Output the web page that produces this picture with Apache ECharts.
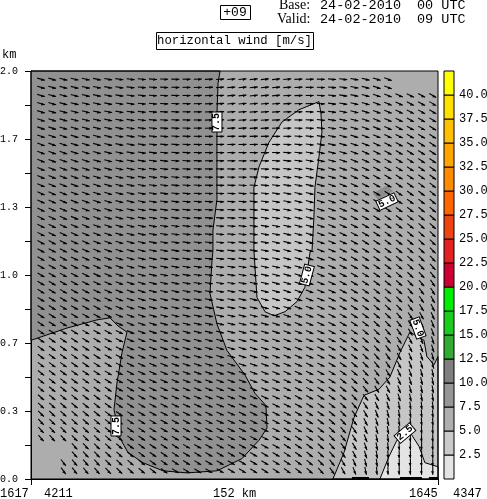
<!DOCTYPE html>
<html>
<head>
<meta charset="utf-8">
<title>horizontal wind</title>
<script src="https://cdn.jsdelivr.net/npm/echarts@6/dist/echarts.min.js"></script>
<style>html,body{margin:0;padding:0;background:#fff}</style>
</head>
<body>
<div id="main" style="width:487px;height:499px"></div>
<script type="text/javascript">
// cross section limits
var sectionKm = 304;
var topKm = 2;

// colour bar
var barLevels = [0,2.5,5,7.5,10,12.5,15,17.5,20,22.5,25,27.5,30,32.5,35,37.5,40,42.5];
var barColors = ['#e4e4e4','#cacaca','#afafaf','#969696','#7f7f7f','#33aa33','#1ccc1c','#00ee00','#cc0033','#e52222','#ee4411','#ff6600','#ff8c00','#ffa500','#ffc000','#ffe000','#ffff00'];

// contour areas, [km along section, height km]
var area75 = [[0,2],[141.2,2],[139.7,1.94],[138.9,1.79],[138.9,1.70],[138.9,1.37],[135.9,1.22],[135.9,1.12],[135.2,1.07],[133.7,0.91],[138.9,0.76],[146.4,0.63],[159.8,0.51],[167.3,0.42],[175.5,0.36],[176.3,0.25],[170.3,0.19],[157.6,0.10],[138.9,0.04],[116.5,0.03],[98.6,0.04],[83.6,0.08],[72.4,0.13],[66.5,0.20],[62,0.34],[64.2,0.47],[68,0.62],[71.7,0.72],[65,0.75],[59,0.79],[49.3,0.78],[26.9,0.74],[9,0.70],[0,0.68]];
var area25Upper = [[215.1,1.85],[216.6,1.79],[217.3,1.70],[215.1,1.58],[212.1,1.43],[211.3,1.28],[209.9,1.12],[208.4,1.11],[204.6,0.94],[198.7,0.87],[189.7,0.82],[181.5,0.80],[174.8,0.82],[168.8,0.89],[167.3,1.04],[166.5,1.12],[166.5,1.43],[170.3,1.53],[177.7,1.65],[187.5,1.75],[200.1,1.81]];
var area25Lower = [[225.5,0],[233.8,0.13],[241.2,0.30],[248.7,0.41],[259.9,0.44],[268.1,0.50],[275.6,0.62],[283,0.72],[293.5,0.68],[295.7,0.60],[301,0.56],[304,0.60],[304,0]];
var area0 = [[260.6,0],[267.4,0.11],[273.3,0.19],[283,0.23],[289.8,0.16],[294.2,0.08],[304,0.06],[304,0]];
var patch75 = [[255.4,1.40],[265.9,1.44],[270.4,1.41],[259.2,1.37]];
var groundRuns = [[239.7,252.4],[275.6,292],[297.2,304]];

// contour labels, [km, height km, turn degrees, text]
var contourLabels = [[138.9,1.75,90,'7.5'],[206.1,1.0,75,'5.0'],[289,0.74,-70,'5.0'],[279.3,0.225,40,'2.5'],[63.5,0.26,90,'7.5'],[265.9,1.36,25,'5.0']];

// wind grid
var firstColKm = 7.5, colStepKm = 8.36;
var firstRowKm = 1.96, rowStepKm = 0.04;

// wind direction, degrees below east, top row first
var windAngles = [
[15,15,14,13,12,11,10,8,7,5,4,2,1,0,-2,-3,-4,-5,-5,-6,-6,-6,-5,-3,-1,1,4,7,10,14,17,20,null,null,null,null],
[15,15,14,14,12,11,10,8,7,5,4,3,1,0,-2,-3,-4,-5,-6,-6,-6,-6,-5,-3,-1,2,5,8,11,14,17,20,null,null,null,null],
[16,15,15,14,13,12,11,9,7,6,4,3,1,0,-2,-3,-4,-5,-6,-7,-6,-6,-4,-2,0,3,6,9,12,15,18,21,24,26,28,29],
[16,16,15,14,13,12,11,9,8,6,5,3,2,0,-1,-3,-4,-5,-6,-6,-6,-5,-4,-2,0,3,7,10,13,16,19,22,25,27,28,30],
[17,16,16,15,14,12,11,10,8,6,5,3,2,0,-1,-2,-3,-4,-5,-5,-5,-4,-3,-1,2,5,8,11,14,17,20,22,25,27,29,30],
[18,17,16,15,14,13,12,10,8,7,5,4,2,1,0,-2,-3,-4,-4,-4,-4,-3,-2,0,3,6,9,12,15,18,21,23,26,28,30,31],
[18,18,17,16,15,14,12,11,9,7,6,4,3,1,0,-1,-2,-3,-3,-3,-3,-2,-1,1,4,7,10,13,16,19,22,24,27,29,30,31],
[19,18,18,17,16,14,13,11,9,8,6,5,3,2,1,0,-1,-2,-2,-2,-2,-1,1,3,6,9,11,14,17,20,23,25,27,29,31,32],
[20,19,18,17,16,15,13,12,10,8,6,5,4,2,1,0,-1,-1,-1,-1,-1,0,2,4,7,10,12,15,18,21,24,26,28,30,32,33],
[20,20,19,18,17,15,14,12,10,8,7,5,4,3,1,0,0,0,0,0,0,1,3,6,9,12,14,17,20,23,26,28,30,31,32,33],
[21,20,19,18,17,16,14,12,11,9,7,6,4,3,2,1,0,0,1,1,1,3,5,7,10,13,15,18,21,24,26,28,30,32,33,34],
[22,21,20,19,18,16,15,13,11,9,8,6,5,3,2,1,1,1,2,2,3,4,6,9,11,14,16,19,22,25,27,29,31,33,34,35],
[22,22,21,20,18,17,15,13,12,10,8,6,5,4,3,2,1,2,2,3,4,5,8,10,12,15,17,20,23,26,28,30,32,34,35,36],
[23,22,21,20,19,17,16,14,12,10,8,7,5,4,3,2,2,2,3,4,5,7,9,11,13,16,18,21,24,27,29,31,33,35,36,37],
[24,23,22,21,19,17,16,14,12,10,9,7,6,4,3,2,2,3,4,5,6,8,10,12,14,17,19,22,25,28,30,32,34,36,37,38],
[24,24,23,21,20,18,16,14,13,11,9,7,6,5,4,3,3,3,4,6,7,9,11,13,15,18,20,23,26,28,30,33,35,36,38,39],
[25,24,23,22,20,18,17,15,13,11,9,8,6,5,4,3,3,4,5,6,8,10,11,13,15,18,20,23,26,29,31,33,35,37,39,40],
[26,25,24,22,21,19,17,15,13,11,10,8,7,5,4,4,4,4,6,7,8,10,12,14,16,19,21,24,27,29,31,34,36,38,40,41],
[26,25,24,23,21,19,18,16,14,12,10,8,7,6,5,4,4,5,6,8,9,11,12,14,16,19,21,24,27,30,32,34,36,38,41,42],
[27,26,25,24,22,20,18,16,14,12,10,9,7,6,5,4,4,5,7,8,10,11,13,15,17,20,22,25,27,30,32,35,37,39,41,43],
[28,27,26,24,23,21,19,17,15,13,11,9,8,7,6,5,5,6,7,9,10,12,14,16,18,20,22,25,28,31,33,35,37,40,42,44],
[28,27,26,25,23,21,20,18,16,14,11,10,9,7,6,6,6,6,8,9,11,12,14,16,18,21,23,26,28,31,33,35,38,40,43,45],
[29,28,27,25,24,22,20,18,16,14,12,10,9,8,7,6,6,7,8,10,11,13,15,17,19,21,23,26,29,31,34,36,38,41,44,47],
[29,28,27,26,25,23,21,19,17,15,12,11,10,9,8,7,7,8,9,11,12,13,15,17,19,21,23,26,29,32,34,36,39,42,45,48],
[30,29,28,27,25,24,21,19,17,15,13,12,10,9,8,8,8,9,10,11,13,14,16,17,19,22,24,27,29,32,35,37,40,43,46,50],
[30,30,29,28,26,25,22,20,18,16,14,12,11,10,9,9,9,9,10,12,13,15,16,18,20,22,24,27,30,33,36,38,41,45,49,54],
[31,30,29,28,27,25,23,21,19,17,14,13,12,11,10,9,9,10,11,12,14,15,17,18,20,22,24,27,30,34,37,39,42,47,52,57],
[31,31,30,29,27,26,24,21,19,17,15,13,12,11,10,10,10,11,12,13,14,16,17,19,21,23,25,28,31,34,38,41,44,50,55,60],
[32,31,30,29,28,27,24,22,20,18,15,14,13,12,11,11,11,11,12,14,15,16,18,19,21,23,25,28,31,35,39,42,46,52,58,62],
[32,32,31,30,29,28,25,23,20,18,16,15,14,13,12,12,12,12,13,14,16,17,18,20,22,24,26,29,32,36,40,44,49,55,60,65],
[33,32,31,30,29,28,26,23,21,19,17,16,15,14,13,13,13,13,14,15,16,18,19,21,22,24,26,29,33,37,42,46,51,57,63,67],
[34,33,32,31,30,29,27,24,22,20,18,17,16,15,14,14,14,14,15,16,17,18,20,21,23,25,27,30,34,39,43,48,54,60,65,69],
[34,34,33,32,31,30,27,25,23,21,19,18,17,16,15,15,15,15,16,17,18,19,20,22,23,25,27,31,35,40,45,50,56,62,67,71],
[35,35,34,33,32,31,28,26,24,22,20,19,18,17,16,16,16,16,17,18,18,20,21,22,24,26,28,32,36,41,46,52,58,64,69,72],
[36,35,35,34,33,31,29,27,25,23,21,20,19,18,17,17,17,17,18,18,19,20,22,23,24,26,29,33,37,43,48,54,60,66,71,73],
[37,36,36,35,33,32,30,28,26,24,22,21,20,19,18,18,18,18,19,19,20,21,22,24,25,27,30,34,39,44,50,56,62,68,72,75],
[38,37,36,35,34,33,31,29,27,25,23,22,21,20,19,19,19,19,20,20,21,22,23,24,26,28,31,35,40,46,52,58,64,70,74,77],
[39,38,37,36,35,34,32,30,28,26,24,23,22,21,20,20,20,20,21,21,22,22,24,25,27,29,32,37,42,48,54,60,66,72,76,78],
[40,39,38,37,36,35,33,31,29,27,25,24,23,22,21,21,21,21,22,22,22,23,24,26,28,30,33,38,44,50,57,63,69,74,78,80],
[41,40,39,38,37,36,34,32,30,28,26,25,24,23,22,22,22,22,23,23,23,24,25,27,29,31,35,40,46,52,60,66,72,77,80,82],
[43,41,40,39,38,38,35,33,31,29,27,26,25,24,24,24,23,23,24,24,25,25,26,28,30,33,37,42,48,56,65,72,78,82,84,84],
[44,43,42,41,40,39,36,34,32,30,28,27,26,25,25,25,24,24,25,25,25,26,27,29,31,34,39,44,51,59,68,74,80,84,86,86],
[46,44,43,42,41,40,38,36,34,32,30,29,28,27,26,26,25,25,25,26,26,27,28,30,32,36,41,46,53,62,71,77,82,86,87,87],
[47,46,45,43,42,41,39,37,35,33,31,30,29,28,27,27,26,26,26,27,27,27,29,31,34,37,42,48,55,64,73,79,84,87,88,88],
[49,48,47,45,44,43,41,38,36,34,32,31,30,29,28,28,27,27,27,27,27,28,30,32,35,39,44,50,58,67,76,82,86,88,89,89],
[null,null,null,47,46,44,42,40,37,35,33,32,31,30,29,29,28,28,28,28,28,29,31,33,36,41,46,52,60,70,78,84,88,89,90,90],
[null,null,null,48,47,46,43,41,39,37,35,34,32,31,30,29,29,29,29,29,29,30,32,34,38,43,48,55,63,72,80,86,89,90,90,90],
[null,null,52,50,49,48,45,43,41,39,36,35,33,32,31,30,30,30,30,30,30,31,33,36,40,45,51,58,66,75,82,87,90,90,90,90],
[null,null,54,52,51,50,47,45,42,40,37,36,34,33,32,31,30,30,31,32,32,33,35,38,42,47,54,61,69,78,85,88,90,90,90,90]
];

var areas = [
    {points: area75, fill: '#919191', line: true},
    {points: area25Upper, fill: '#c6c6c6', line: true},
    {points: area25Lower, fill: '#c6c6c6', line: true},
    {points: area0, fill: '#e4e4e4', line: true},
    {points: patch75, fill: '#8c8c8c', line: false}
];

var windData = [];
for (var r = 0; r < windAngles.length; r++) {
    for (var c = 0; c < windAngles[r].length; c++) {
        if (windAngles[r][c] === null) continue;
        windData.push([firstColKm + c * colStepKm, firstRowKm - r * rowStepKm, windAngles[r][c]]);
    }
}

var monoFont = '"Liberation Mono", monospace';
var serifFont = '"Liberation Serif", serif';

function renderArea(params, api) {
    var a = areas[params.dataIndex];
    var pts = a.points.map(function (p) { return api.coord(p); });
    return {
        type: 'polygon',
        shape: {points: pts},
        style: {fill: a.fill, stroke: a.line ? '#000' : null, lineWidth: 1}
    };
}

function renderArrow(params, api) {
    var p = api.coord([api.value(0), api.value(1)]);
    var t = api.value(2) * Math.PI / 180;
    var ux = Math.cos(t), uy = Math.sin(t);
    var half = 4;
    var tip = [p[0] + ux * half, p[1] + uy * half];
    var back = [tip[0] - ux * 3.6, tip[1] - uy * 3.6];
    return {
        type: 'group',
        children: [{
            type: 'line',
            shape: {x1: p[0] - ux * half, y1: p[1] - uy * half, x2: tip[0], y2: tip[1]},
            style: {stroke: '#000', lineWidth: 1.1}
        }, {
            type: 'polygon',
            shape: {points: [tip, [back[0] - uy * 1.8, back[1] + ux * 1.8], [back[0] + uy * 1, back[1] - ux * 1]]},
            style: {fill: '#000'}
        }]
    };
}

function renderContourLabel(params, api) {
    var p = api.coord([api.value(0), api.value(1)]);
    var turn = api.value(2) * Math.PI / 180;
    return {
        type: 'group',
        x: p[0], y: p[1], rotation: turn,
        children: [{
            type: 'rect',
            shape: {x: -10, y: -5, width: 20, height: 10},
            style: {fill: '#fff', stroke: '#000', lineWidth: 1}
        }, {
            type: 'text',
            style: {text: contourLabels[params.dataIndex][3], x: 0, y: 0, align: 'center', verticalAlign: 'middle', font: 'bold 10px ' + monoFont, fill: '#000'}
        }]
    };
}

function renderBarCell(params, api) {
    var lo = api.coord([0, api.value(0)]);
    var hi = api.coord([1, api.value(1)]);
    return {
        type: 'rect',
        shape: {x: lo[0], y: hi[1], width: hi[0] - lo[0], height: lo[1] - hi[1]},
        style: {fill: barColors[params.dataIndex], stroke: '#000', lineWidth: 1}
    };
}

function renderGround(params, api) {
    var a = api.coord([api.value(0), 0]);
    var b = api.coord([api.value(1), 0]);
    return {type: 'line', shape: {x1: a[0], y1: a[1] - 1, x2: b[0], y2: b[1] - 1}, style: {stroke: '#000', lineWidth: 2}};
}

function renderFrame(params, api) {
    var a = api.coord([0, 0]);
    var b = api.coord([sectionKm, topKm]);
    return {type: 'rect', shape: {x: a[0], y: b[1], width: b[0] - a[0], height: a[1] - b[1]}, style: {fill: null, stroke: '#000', lineWidth: 1}};
}

function headText(text, x, y, extra) {
    var s = {text: text, x: x, y: y, font: '13.5px ' + monoFont, fill: '#000', verticalAlign: 'middle'};
    for (var k in (extra || {})) s[k] = extra[k];
    return {type: 'text', silent: true, style: s};
}

function boxRect(x, y, w, h) {
    return {type: 'rect', silent: true, shape: {x: x + 0.5, y: y + 0.5, width: w, height: h}, style: {fill: '#fff', stroke: '#000', lineWidth: 1}};
}

var barData = [];
for (var i = 0; i < barColors.length; i++) barData.push([barLevels[i], barLevels[i + 1]]);

var myChart = echarts.init(document.getElementById('main'), null, {renderer: 'canvas'});
var option = {
    animation: false,
    backgroundColor: '#fff',
    grid: [
        {left: 31, right: 49, top: 71, bottom: 20, show: true, backgroundColor: '#adadad', borderWidth: 0, outerBoundsMode: 'none'},
        {left: 444, width: 10, top: 71, bottom: 20, outerBoundsMode: 'none'}
    ],
    xAxis: [{
        gridIndex: 0, type: 'value', min: 0, max: sectionKm, interval: sectionKm,
        splitLine: {show: false},
        axisLabel: {show: false},
        axisLine: {onZero: false, lineStyle: {color: '#000', width: 1}},
        axisTick: {show: true, length: 6, lineStyle: {color: '#000', width: 1}}
    }, {
        gridIndex: 1, type: 'value', min: 0, max: 1, show: false
    }],
    yAxis: [{
        gridIndex: 0, type: 'value', min: 0, max: topKm, interval: topKm / 12,
        splitLine: {show: false},
        axisLine: {show: true, onZero: false, lineStyle: {color: '#000', width: 1}},
        axisTick: {show: true, length: 6, lineStyle: {color: '#000', width: 1}},
        axisLabel: {
            margin: 13, color: '#000', fontFamily: '"Liberation Mono", monospace', fontSize: 10,
            formatter: function (v) { return Math.round(v * 6) % 2 ? '' : v.toFixed(1); }
        }
    }, {
        gridIndex: 1, type: 'value', position: 'right', min: 0, max: 42.5, interval: 2.5,
        splitLine: {show: false},
        axisLine: {show: false},
        axisTick: {show: false},
        axisLabel: {
            margin: 5, color: '#000', fontFamily: '"Liberation Mono", monospace', fontSize: 12,
            formatter: function (v) { return (v === 0 || v === 42.5) ? '' : v.toFixed(1); }
        }
    }],
    series: [
        {type: 'custom', coordinateSystem: 'cartesian2d', xAxisIndex: 0, yAxisIndex: 0, data: areas.map(function (a, i) { return [i]; }), renderItem: renderArea, silent: true, z: 2, clip: false},
        {type: 'custom', coordinateSystem: 'cartesian2d', xAxisIndex: 0, yAxisIndex: 0, data: windData, renderItem: renderArrow, silent: true, z: 3, progressive: 0, clip: false},
        {type: 'custom', coordinateSystem: 'cartesian2d', xAxisIndex: 0, yAxisIndex: 0, data: contourLabels.map(function (l) { return [l[0], l[1], l[2]]; }), renderItem: renderContourLabel, silent: true, z: 4},
        {type: 'custom', coordinateSystem: 'cartesian2d', xAxisIndex: 0, yAxisIndex: 0, data: groundRuns, renderItem: renderGround, silent: true, z: 5, clip: false},
        {type: 'custom', coordinateSystem: 'cartesian2d', xAxisIndex: 0, yAxisIndex: 0, data: [[0]], renderItem: renderFrame, silent: true, z: 6, clip: false},
        {type: 'custom', coordinateSystem: 'cartesian2d', xAxisIndex: 1, yAxisIndex: 1, data: barData, renderItem: renderBarCell, silent: true, z: 3, clip: false}
    ],
    graphic: [
        boxRect(220, 5, 30, 14),
        headText('+09', 235, 12.5, {align: 'center', font: '13px ' + monoFont}),
        headText('Base:', 279, 5, {font: '14px ' + serifFont}),
        headText('24-02-2010', 320, 5),
        headText('00 UTC', 417, 5),
        headText('Valid:', 277, 19, {font: '14px ' + serifFont}),
        headText('24-02-2010', 320, 19),
        headText('09 UTC', 417, 19),
        boxRect(156, 32, 157, 17),
        headText('horizontal wind [m/s]', 234.5, 41, {align: 'center', font: '12.3px ' + monoFont}),
        headText('km', 2, 55, {font: '12px ' + monoFont}),
        headText('1617', 0, 494, {font: '12px ' + monoFont}),
        headText('4211', 44, 494, {font: '12px ' + monoFont}),
        headText('152 km', 213, 494, {font: '12px ' + monoFont}),
        headText('1645', 409, 494, {font: '12px ' + monoFont}),
        headText('4347', 453, 494, {font: '12px ' + monoFont})
    ]
};
myChart.setOption(option);
</script>
</body>
</html>
